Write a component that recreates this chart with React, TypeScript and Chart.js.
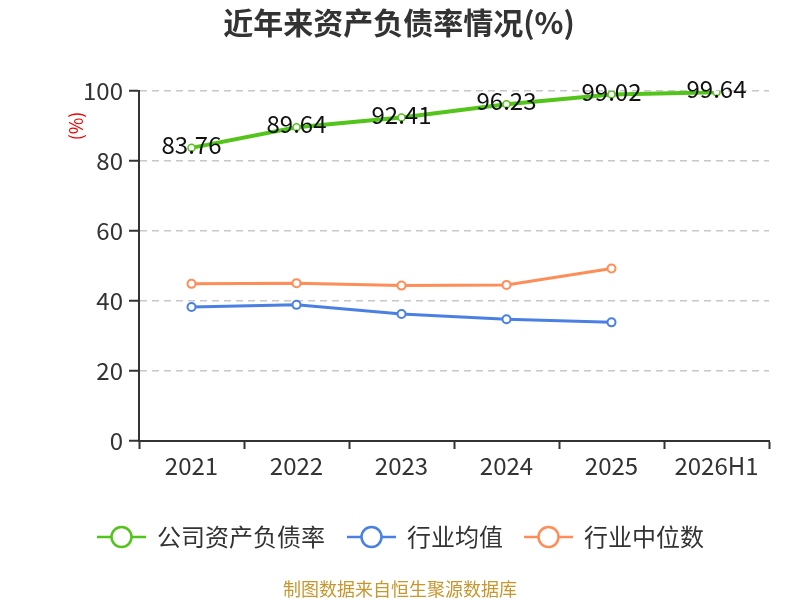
import { Chart, registerables } from 'chart.js';
import { useEffect, useRef } from 'react';

Chart.register(...registerables);

const years = ['2021', '2022', '2023', '2024', '2025', '2026H1'];
const companyRatio = [83.76, 89.64, 92.41, 96.23, 99.02, 99.64];
const industryAvg = [38.3, 38.9, 36.3, 34.8, 33.9, null];
const industryMedian = [44.9, 45.1, 44.4, 44.6, 49.3, null];
const yTicks = [0, 20, 40, 60, 80, 100];

const FONT = '"Noto Sans CJK SC", "Noto Sans", sans-serif';
const GREEN = '#52c41a';
const BLUE = '#4a7fe3';
const ORANGE = '#ff8d57';

const legendItems = [
    { label: '公司资产负债率', color: GREEN, x: 97 },
    { label: '行业均值', color: BLUE, x: 347 },
    { label: '行业中位数', color: ORANGE, x: 524 },
];

const decorPlugin = {
    id: 'decor',
    afterDatasetsDraw(chart: Chart) {
        const ctx = chart.ctx;
        const meta = chart.getDatasetMeta(0);
        ctx.save();
        ctx.font = `24px ${FONT}`;
        ctx.fillStyle = '#111';
        ctx.textAlign = 'center';
        ctx.textBaseline = 'middle';
        meta.data.forEach((pt: any, i: number) => {
            ctx.fillText(companyRatio[i].toFixed(2), pt.x, pt.y - 3);
        });
        ctx.restore();
    },
    afterDraw(chart: Chart) {
        const ctx = chart.ctx;
        ctx.save();
        // title
        ctx.font = `bold 30px ${FONT}`;
        ctx.fillStyle = '#333';
        ctx.textAlign = 'center';
        ctx.textBaseline = 'middle';
        ctx.fillText('近年来资产负债率情况(%)', 399, 23);

        // y axis unit
        ctx.save();
        ctx.translate(76, 126);
        ctx.rotate(-Math.PI / 2);
        ctx.font = `18px ${FONT}`;
        ctx.fillStyle = '#e00';
        ctx.fillText('(%)', 0, 0);
        ctx.restore();

        // legend
        const ly = 537;
        legendItems.forEach((item) => {
            ctx.strokeStyle = item.color;
            ctx.lineWidth = 2.5;
            ctx.beginPath();
            ctx.moveTo(item.x, ly);
            ctx.lineTo(item.x + 49, ly);
            ctx.stroke();
            ctx.beginPath();
            ctx.arc(item.x + 24.5, ly, 10, 0, Math.PI * 2);
            ctx.fillStyle = '#fff';
            ctx.fill();
            ctx.stroke();
            ctx.font = `24px ${FONT}`;
            ctx.fillStyle = '#333';
            ctx.textAlign = 'left';
            ctx.fillText(item.label, item.x + 60, ly);
        });

        // source
        ctx.font = `18px ${FONT}`;
        ctx.fillStyle = '#c8962e';
        ctx.textAlign = 'center';
        ctx.fillText('制图数据来自恒生聚源数据库', 400, 589);
        ctx.restore();
    },
};

function LineChart() {
    const canvasRef = useRef<HTMLCanvasElement>(null);
    const chartRef = useRef<Chart | null>(null);

    useEffect(() => {
        if (!canvasRef.current) return;
        const ctx = canvasRef.current.getContext('2d');
        if (!ctx) return;
        if (chartRef.current) chartRef.current.destroy();

        chartRef.current = new Chart(ctx, {
            type: 'line',
            data: {
                labels: years,
                datasets: [
                    {
                        label: '公司资产负债率',
                        data: companyRatio,
                        borderColor: GREEN,
                        backgroundColor: '#fff',
                        borderWidth: 4,
                        pointRadius: 3.5,
                        pointBorderWidth: 1.5,
                        pointBackgroundColor: '#fff',
                        pointBorderColor: GREEN,
                        tension: 0,
                    },
                    {
                        label: '行业均值',
                        data: industryAvg,
                        borderColor: BLUE,
                        backgroundColor: '#fff',
                        borderWidth: 3,
                        pointRadius: 4,
                        pointBorderWidth: 2,
                        pointBackgroundColor: '#fff',
                        pointBorderColor: BLUE,
                    },
                    {
                        label: '行业中位数',
                        data: industryMedian,
                        borderColor: ORANGE,
                        backgroundColor: '#fff',
                        borderWidth: 3,
                        pointRadius: 4,
                        pointBorderWidth: 2,
                        pointBackgroundColor: '#fff',
                        pointBorderColor: ORANGE,
                    },
                ],
            },
            options: {
                responsive: false,
                animation: false,
                layout: { padding: { top: 91, right: 31, left: 0, bottom: 0 } },
                plugins: {
                    legend: { display: false },
                    title: { display: false },
                    tooltip: { enabled: false },
                },
                scales: {
                    x: {
                        offset: true,
                        grid: {
                            offset: true,
                            drawOnChartArea: false,
                            drawTicks: true,
                            tickLength: 8,
                            tickColor: '#333',
                            tickWidth: 2,
                        },
                        border: { color: '#333', width: 2 },
                        ticks: {
                            color: '#333',
                            font: { size: 24, family: FONT },
                            padding: 2,
                            maxRotation: 0,
                        },
                        afterFit(scale: any) {
                            scale.height = 159;
                        },
                    },
                    y: {
                        min: 0,
                        max: 100,
                        afterBuildTicks(scale: any) {
                            scale.ticks = yTicks.map((v) => ({ value: v }));
                        },
                        grid: {
                            color: '#c8c8c8',
                            lineWidth: 1.5,
                            drawTicks: true,
                            tickLength: 10,
                            tickColor: '#333',
                            tickWidth: 2,
                            tickBorderDash: [],
                        },
                        border: { color: '#333', width: 2, dash: [7, 5] },
                        ticks: {
                            color: '#333',
                            font: { size: 24, family: FONT },
                            padding: 6,
                        },
                        afterFit(scale: any) {
                            scale.width = 139;
                        },
                    },
                },
            },
            plugins: [decorPlugin],
        });

        return () => {
            if (chartRef.current) {
                chartRef.current.destroy();
                chartRef.current = null;
            }
        };
    }, []);

    return <canvas ref={canvasRef} width={800} height={600} style={{ display: 'block', width: 800, height: 600 }} />;
}

export default function App() {
    useEffect(() => {
        document.body.style.margin = '0';
    }, []);
    return <LineChart />;
}
